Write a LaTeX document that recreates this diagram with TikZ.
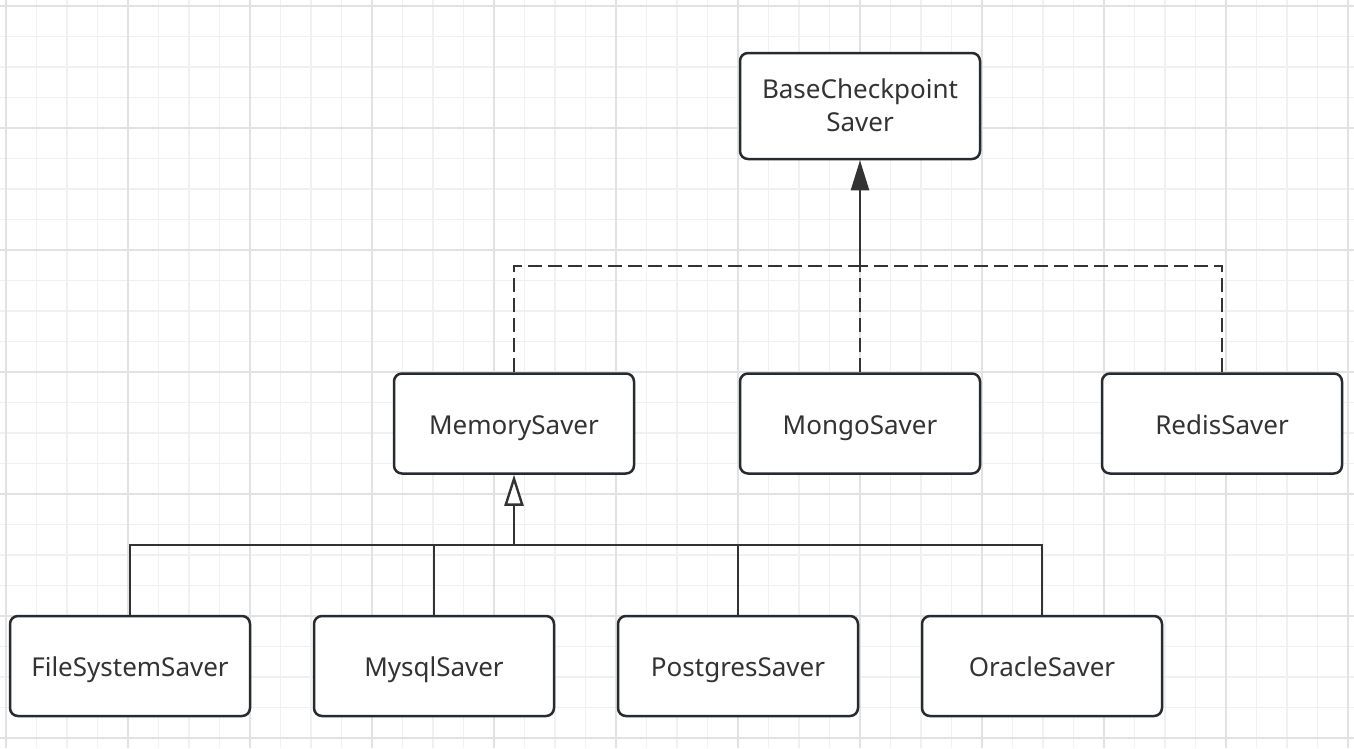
\documentclass[tikz,border=0pt]{standalone}
\usepackage{fontspec}
\setmainfont{Noto Sans}
\usepackage{tikz}
\usetikzlibrary{arrows.meta}
\definecolor{CBorder}{HTML}{262B30}
\definecolor{CLine}{HTML}{333333}
\definecolor{CText}{HTML}{333333}
\definecolor{CMinor}{HTML}{F0F0F0}
\definecolor{CMajor}{HTML}{E2E2E2}

\begin{document}
\begin{tikzpicture}[
  x=1pt,y=-1pt,
  every node/.style={font=\fontsize{26}{33}\selectfont,text=CText},
  saver/.style={draw=CBorder,line width=2.5pt,rounded corners=8pt,fill=white,
    minimum width=240pt,minimum height=100pt,align=center,inner sep=0pt,
    text height=27pt,text depth=6pt},
  link/.style={line width=2.4pt,color=CLine},
  dashlink/.style={link,dash pattern=on 14pt off 6pt},
  extends/.style={link,-{Triangle[length=30pt,width=18pt]}},
  implements/.style={link,-{Triangle[open,length=31pt,width=19pt,fill=white]}}
]
  \useasboundingbox (0,0) rectangle (1354,748);
  \fill[white] (0,0) rectangle (1354,748);
  % background grid
  \foreach \k in {0,...,44}
    \draw[CMinor,line width=1.5pt] ({6+30.5*\k},0) -- ({6+30.5*\k},748);
  \foreach \k in {0,...,24}
    \draw[CMinor,line width=1.5pt] (0,{6+30.5*\k}) -- (1354,{6+30.5*\k});
  \foreach \k in {0,...,11}
    \draw[CMajor,line width=1.5pt] ({6+122*\k},0) -- ({6+122*\k},748);
  \foreach \k in {0,...,6}
    \draw[CMajor,line width=1.5pt] (0,{6+122*\k}) -- (1354,{6+122*\k});

  \node[saver,minimum height=106pt,text height=56pt] (base) at (860,106)
    {BaseCheckpoint\\Saver};
  \node[saver] (memory) at (514,423.5) {MemorySaver};
  \node[saver] (mongo) at (860,423.5) {MongoSaver};
  \node[saver] (redis) at (1222,423.5) {RedisSaver};
  \node[saver] (filesys) at (130,666) {FileSystemSaver};
  \node[saver] (mysql) at (434,666) {MysqlSaver};
  \node[saver] (postgres) at (738,666) {PostgresSaver};
  \node[saver] (oracle) at (1042,666) {OracleSaver};

  \coordinate (upjoin) at (860,266);
  \coordinate (lowjoin) at (514,545);

  \draw[dashlink] (memory.north) |- (upjoin);
  \draw[dashlink] (redis.north) |- (upjoin);
  \draw[dashlink] (mongo.north) -- (upjoin);
  \draw[extends] (upjoin) -- (base.south);

  \draw[link] (filesys.north) |- (lowjoin);
  \draw[link] (mysql.north) |- (lowjoin);
  \draw[link] (postgres.north) |- (lowjoin);
  \draw[link] (oracle.north) |- (lowjoin);
  \draw[implements] (lowjoin) -- (memory.south);
\end{tikzpicture}
\end{document}
